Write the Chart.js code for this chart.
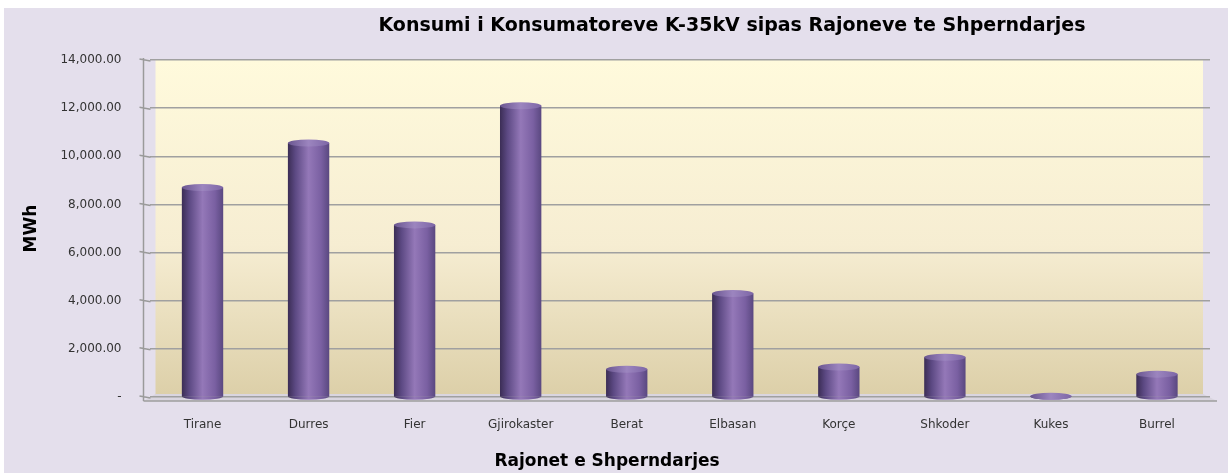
<!DOCTYPE html>
<html>
<head>
<meta charset="utf-8">
<script src="https://cdn.jsdelivr.net/npm/chart.js@4"></script>
<style>
  html, body { margin: 0; padding: 0; background: #ffffff; }
  #wrap { width: 1228px; height: 473px; }
</style>
</head>
<body>
<div id="wrap"><canvas id="c" width="1228" height="473"></canvas></div>
<script>
const categories = ['Tirane', 'Durres', 'Fier', 'Gjirokaster', 'Berat', 'Elbasan', 'Korçe', 'Shkoder', 'Kukes', 'Burrel'];
const consumptionMWh = [8700, 10550, 7150, 12100, 1150, 4300, 1250, 1650, 30, 950];
const yTicks = [0, 2000, 4000, 6000, 8000, 10000, 12000, 14000];
const chartTitle = 'Konsumi i Konsumatoreve K-35kV sipas Rajoneve te Shperndarjes';
const xTitle = 'Rajonet e Shperndarjes';
const yTitle = 'MWh';

const FONT = '"DejaVu Sans", Verdana, sans-serif';

function cylGradient(ctx, el) {
  const x0 = el.x - el.width / 2, x1 = el.x + el.width / 2;
  const g = ctx.createLinearGradient(x0, 0, x1, 0);
  g.addColorStop(0, '#3b2d55');
  g.addColorStop(0.18, '#5c4983');
  g.addColorStop(0.5, '#9478b8');
  g.addColorStop(0.8, '#7a60a2');
  g.addColorStop(1, '#5a4880');
  return g;
}

const decor = {
  id: 'decor',
  beforeDraw(chart) {
    const { ctx, chartArea: a, width, height } = chart;
    ctx.save();
    ctx.fillStyle = '#ffffff';
    ctx.fillRect(0, 0, width, height);
    ctx.fillStyle = '#e4dfec';
    ctx.fillRect(4, 8, width - 4, height - 8);
    const g = ctx.createLinearGradient(0, a.top, 0, a.bottom);
    g.addColorStop(0, '#fffadc');
    g.addColorStop(0.55, '#f6edd2');
    g.addColorStop(1, '#dccfa8');
    ctx.fillStyle = g;
    ctx.fillRect(a.left + 6, a.top, a.right - a.left - 13, a.bottom - a.top);
    ctx.fillStyle = '#d9d5df';
    ctx.beginPath();
    ctx.moveTo(a.left + 6, a.bottom - 3);
    ctx.lineTo(a.right - 7, a.bottom - 3);
    ctx.lineTo(a.right + 7, a.bottom + 4);
    ctx.lineTo(a.left - 6, a.bottom + 4);
    ctx.closePath();
    ctx.fill();
    ctx.strokeStyle = '#9e9e9e';
    ctx.lineWidth = 1.5;
    ctx.beginPath();
    ctx.moveTo(a.left - 6, a.bottom + 4);
    ctx.lineTo(a.right + 7, a.bottom + 4);
    ctx.stroke();
    ctx.restore();
  },
  beforeDatasetsDraw(chart) {
    const { ctx, chartArea: a } = chart;
    const y = chart.scales.y;
    ctx.save();
    ctx.strokeStyle = '#9a9a9a';
    ctx.lineWidth = 1.5;
    ctx.beginPath();
    ctx.moveTo(a.left - 6, a.top - 2);
    ctx.lineTo(a.left - 6, a.bottom + 4);
    yTicks.forEach((v) => {
      const py = y.getPixelForValue(v);
      ctx.moveTo(a.left - 10, py - 1);
      ctx.lineTo(a.left + 1, py + 1);
    });
    ctx.stroke();
    ctx.restore();
    const meta = chart.getDatasetMeta(0);
    meta.data.forEach((el) => {
      el.options = Object.assign({}, el.options, { backgroundColor: cylGradient(chart.ctx, el) });
    });
  },
  afterDatasetsDraw(chart) {
    const { ctx } = chart;
    const meta = chart.getDatasetMeta(0);
    ctx.save();
    meta.data.forEach((el) => {
      const rx = el.width / 2, ry = 3.5;
      ctx.fillStyle = cylGradient(ctx, el);
      ctx.beginPath();
      ctx.ellipse(el.x, el.base, rx, ry, 0, 0, Math.PI);
      ctx.fill();
      const cg = ctx.createLinearGradient(el.x - rx, 0, el.x + rx, 0);
      cg.addColorStop(0, '#6a5690');
      cg.addColorStop(0.5, '#9c85bf');
      cg.addColorStop(1, '#7d66a6');
      ctx.fillStyle = cg;
      ctx.beginPath();
      ctx.ellipse(el.x, el.y, rx, ry, 0, 0, Math.PI * 2);
      ctx.fill();
    });
    ctx.restore();
  },
  afterDraw(chart) {
    const { ctx } = chart;
    ctx.save();
    ctx.fillStyle = '#000000';
    ctx.textAlign = 'center';
    ctx.textBaseline = 'middle';
    ctx.font = 'bold 19px ' + FONT;
    ctx.fillText(chartTitle, 732, 26);
    ctx.font = 'bold 17px ' + FONT;
    ctx.fillText(xTitle, 607, 462);
    ctx.restore();
  }
};

new Chart(document.getElementById('c'), {
  type: 'bar',
  data: {
    labels: categories,
    datasets: [{
      data: consumptionMWh,
      backgroundColor: () => '#7a62a0',
      borderWidth: 0,
      categoryPercentage: 1.0,
      barPercentage: 0.39
    }]
  },
  plugins: [decor],
  options: {
    responsive: false,
    animation: false,
    events: [],
    layout: { padding: { top: 60, right: 18, bottom: 0, left: 0 } },
    plugins: { legend: { display: false }, title: { display: false }, tooltip: { enabled: false } },
    scales: {
      x: {
        grid: { display: false, drawTicks: false },
        border: { display: false },
        ticks: { color: '#333333', font: { family: FONT, size: 12 }, padding: 21, maxRotation: 0 },
        afterFit(scale) { scale.height = 76; }
      },
      y: {
        min: 0, max: 14000,
        afterBuildTicks(scale) { scale.ticks = yTicks.map(v => ({ value: v })); },
        grid: { color: '#a0a0a0', lineWidth: 1.5, drawTicks: false },
        border: { display: false },
        ticks: {
          color: '#333333',
          font: { family: FONT, size: 12 },
          padding: 28,
          callback: (v) => v === 0 ? '-' : Number(v).toLocaleString('en-US', { minimumFractionDigits: 2, maximumFractionDigits: 2 })
        },
        title: { display: true, text: yTitle, color: '#000000', font: { family: FONT, size: 17, weight: 'bold' }, padding: { top: 21, bottom: 0 } },
        afterFit(scale) { scale.width = 149.5; }
      }
    }
  }
});
</script>
</body>
</html>
